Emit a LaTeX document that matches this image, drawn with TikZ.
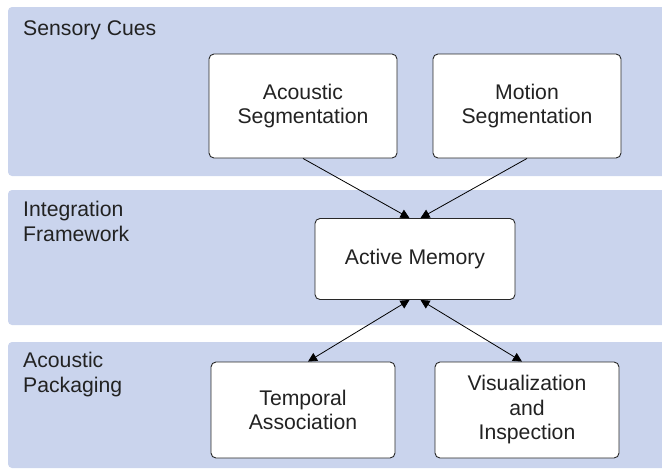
\documentclass[tikz,border=0pt]{standalone}
\usepackage{fontspec}
\setmainfont{Liberation Sans}
\usetikzlibrary{arrows.meta}
\definecolor{bandblue}{RGB}{202,212,237}
\definecolor{txt}{RGB}{34,34,34}
\definecolor{edge}{RGB}{40,40,40}
\tikzset{
  band/.style={fill=bandblue, draw=none, rounded corners=4pt},
  bandlabel/.style={anchor=north west, align=left, inner sep=0pt, text=txt,
    font=\fontsize{21.2}{24.5}\selectfont},
  box/.style={draw=edge, line width=0.9pt, fill=white, rounded corners=5pt,
    align=center, text=txt, font=\fontsize{21.2}{24.5}\selectfont, inner sep=0pt},
  arr/.style={line width=0.8pt, draw=black, -{Triangle[length=9pt,width=9pt]}},
  biarr/.style={line width=0.8pt, draw=black, {Triangle[length=9pt,width=9pt]}-{Triangle[length=9pt,width=9pt]}}
}
\begin{document}
\begin{tikzpicture}[x=1pt,y=-1pt]
\useasboundingbox (0,0) rectangle (662,475);
% bands
\path[band] (8,7) rectangle (670,176);
\path[band] (8,190) rectangle (670,325);
\path[band] (8,342) rectangle (670,468);
% band labels
\node[bandlabel] (lab1) at (23,20) {Sensory Cues};
\node[bandlabel] (lab2) at (23,201) {Integration\\Framework};
\node[bandlabel] (lab3) at (23,352) {Acoustic\\Packaging};
% boxes
\node[box, minimum width=188pt, minimum height=104pt] (acs) at (303,106) {Acoustic\\Segmentation};
\node[box, minimum width=188pt, minimum height=104pt] (mot) at (527,106) {Motion\\Segmentation};
\node[box, minimum width=200pt, minimum height=81pt] (am) at (415,259) {Active Memory};
\node[box, minimum width=184pt, minimum height=96pt] (tmp) at (303,410) {Temporal\\Association};
\node[box, minimum width=184pt, minimum height=96pt] (vis) at (527,410) {Visualization\\and\\Inspection};
% connectors
\draw[arr] (acs.south) -- ([xshift=-5.5pt]am.north);
\draw[arr] (mot.south) -- ([xshift=5.5pt]am.north);
\draw[biarr] ([xshift=-5.5pt]am.south) -- ([xshift=5pt]tmp.north);
\draw[biarr] ([xshift=5.5pt]am.south) -- ([xshift=-5pt]vis.north);
\end{tikzpicture}
\end{document}
